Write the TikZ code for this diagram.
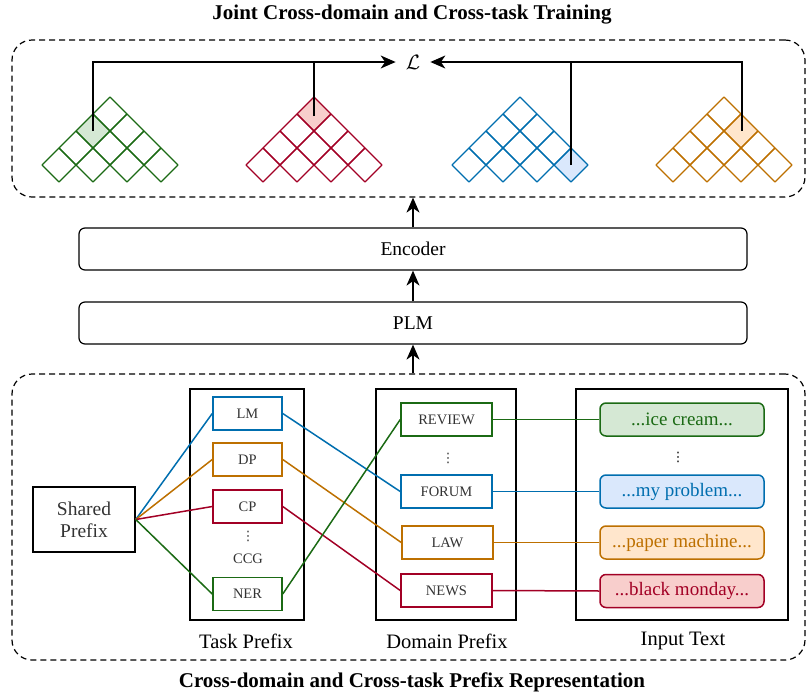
\documentclass[tikz,border=0pt]{standalone}
\usepackage{fontspec}
\setmainfont{Liberation Serif}
\newfontfamily\symfont{DejaVu Sans}
\usepackage{amsmath,amssymb}
\usetikzlibrary{arrows.meta,positioning}
\definecolor{grn}{HTML}{1B6A14}
\definecolor{grnfill}{HTML}{D5E8D4}
\definecolor{red}{HTML}{A20025}
\definecolor{redfill}{HTML}{F8CECC}
\definecolor{blu}{HTML}{006EAF}
\definecolor{blufill}{HTML}{DAE8FC}
\definecolor{org}{HTML}{BD7000}
\definecolor{orgfill}{HTML}{FFE6CC}
\definecolor{txt}{HTML}{333333}
\newcommand{\vdotchar}{{\symfont ⋮}}
\newcommand{\hicell}[3]{\fill[#3] ({#1-17},#2) -- ++(17,-17) -- ++(17,17) -- ++(-17,17) -- cycle;}
\newcommand{\pyramid}[2]{%
  \foreach \r in {0,...,3}{
    \pgfmathtruncatemacro{\kmax}{3-\r}
    \foreach \k in {0,...,\kmax}{
      \draw[#2,line width=1.3pt,line join=round] ({#1+34*\k+17*\r-17},{165-17*\r}) -- ++(17,-17) -- ++(17,17) -- ++(-17,17) -- cycle;
    }
  }
}

\begin{document}
\begin{tikzpicture}[x=1pt,y=-1pt,
  dashbox/.style={draw,dash pattern=on 6pt off 4pt,line width=1.2pt,rounded corners=20pt,minimum width=793pt},
  bar/.style={draw,line width=1.2pt,rounded corners=6pt,minimum width=668pt,minimum height=42pt,font=\fontsize{19.5}{22}\selectfont},
  col/.style={draw,line width=1.5pt,minimum height=231pt},
  tag/.style={draw=#1,line width=1.5pt,minimum height=33pt,text=txt,font=\fontsize{14.5}{16}\selectfont},
  inp/.style={draw=#1,fill=#1fill,text=#1,line width=1.5pt,rounded corners=6pt,minimum width=164pt,minimum height=33pt,font=\fontsize{19}{21}\selectfont},
  link/.style={draw=#1,line width=1.5pt},
  arrow/.style={line width=1.3pt,-{Stealth[length=15pt,width=13pt,inset=4.5pt]}},
  title/.style={font=\fontsize{21}{24}\selectfont\bfseries},
  lbl/.style={font=\fontsize{20.5}{23}\selectfont},
  dots/.style={inner sep=0pt,text=txt,font=\fontsize{13}{14}\selectfont}]
  \useasboundingbox (0,0) rectangle (807,694);

  % training part
  \node[title] (ttop) at (412,15) {Joint Cross-domain and Cross-task Training};
  \node[dashbox,minimum height=157pt] (train) at (408.5,118.5) {};
  \node[font=\fontsize{20}{22}\selectfont,inner sep=10pt] (loss) at (413,62) {$\mathcal{L}$};

  \hicell{93}{131}{grnfill}
  \hicell{314}{114}{redfill}
  \hicell{571}{165}{blufill}
  \hicell{741}{131}{orgfill}
  \pyramid{59}{grn}
  \pyramid{263}{red}
  \pyramid{469}{blu}
  \pyramid{673}{org}
  \coordinate (gcell) at (93,131);
  \coordinate (rcell) at (314,116);
  \coordinate (bcell) at (571,165);
  \coordinate (ocell) at (742,131);

  \draw[arrow] (gcell) |- (loss.west);
  \draw[line width=1.3pt] (rcell) -- (rcell |- loss.west);
  \draw[arrow] (ocell) |- (loss.east);
  \draw[line width=1.3pt] (bcell) -- (bcell |- loss.east);

  % encoder stack
  \node[bar] (enc) at (413,249) {Encoder};
  \node[bar] (plm) at (413,323) {PLM};

  % prefix part
  \node[dashbox,minimum height=286pt] (repr) at (408.5,517) {};
  \node[title] (tbot) at (412,682) {Cross-domain and Cross-task Prefix Representation};

  \draw[arrow] (plm.south |- repr.north) -- (plm.south);
  \draw[arrow] (plm.north) -- (enc.south);
  \draw[arrow] (enc.north) -- (enc.north |- train.south);

  \node[draw,line width=1.5pt,minimum width=102pt,minimum height=65pt,align=center,text=txt,
        font=\fontsize{19.5}{22}\selectfont] (shared) at (84,519.5) {Shared\\Prefix};

  \node[col,minimum width=114pt] (taskcol) at (247,504.5) {};
  \node[col,minimum width=140pt] (domcol) at (446,504.5) {};
  \node[col,minimum width=212pt] (inpcol) at (682,504.5) {};
  \node[lbl] (tasklbl) at (246,641) {Task Prefix};
  \node[lbl] (domlbl) at (447,641) {Domain Prefix};
  \node[lbl] (inplbl) at (683,641) {Input Text};

  \node[tag=blu,minimum width=69pt] (lm) at (247.5,413.5) {LM};
  \node[tag=org,minimum width=69pt] (dp) at (247.5,459.5) {DP};
  \node[tag=red,minimum width=69pt] (cp) at (247.5,506.5) {CP};
  \node[dots] (tdots) at (248,536) {\vdotchar};
  \node[dots,font=\fontsize{14.5}{16}\selectfont] (ccg) at (248,559) {CCG};
  \node[tag=grn,minimum width=69pt] (ner) at (247.5,594) {NER};

  \node[tag=grn,minimum width=91pt] (review) at (446.5,419.5) {REVIEW};
  \node[dots] (ddots) at (448,458) {\vdotchar};
  \node[tag=blu,minimum width=91pt] (forum) at (446.5,491.5) {FORUM};
  \node[tag=org,minimum width=91pt] (law) at (447.5,542.5) {LAW};
  \node[tag=red,minimum width=91pt] (news) at (446.5,590.5) {NEWS};

  \node[inp=grn] (ice) at (682,419.5) {...ice cream...};
  \node[dots,text=black] (idots) at (678,457) {\vdotchar};
  \node[inp=blu] (prob) at (682,491.5) {...my problem...};
  \node[inp=org] (paper) at (682,542.5) {...paper machine...};
  \node[inp=red] (monday) at (682,591) {...black monday...};

  \path
    (shared.east) edge[link=blu] (lm.west)
    (shared.east) edge[link=org] (dp.west)
    (shared.east) edge[link=red] (cp.west)
    (shared.east) edge[link=grn] (ner.west)
    (lm.east) edge[link=blu] (forum.west)
    (dp.east) edge[link=org] (law.west)
    (cp.east) edge[link=red] (news.west)
    (ner.east) edge[link=grn] (review.west)
    (review.east) edge[link=grn] (ice.west)
    (forum.east) edge[link=blu] (prob.west)
    (law.east) edge[link=org] (paper.west)
    (news.east) edge[link=red] (monday.west);
\end{tikzpicture}
\end{document}
